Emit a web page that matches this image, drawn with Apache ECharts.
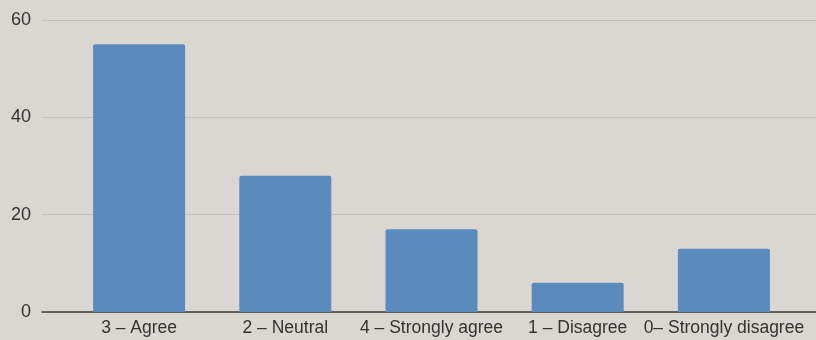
<!DOCTYPE html>
<html><head><meta charset="utf-8">
<script src="https://cdn.jsdelivr.net/npm/echarts@6/dist/echarts.min.js"></script>
<style>html,body{margin:0;padding:0;background:#dad6d1;}#c{width:816px;height:340px;}</style>
</head><body><div id="c"></div>
<script>
const categories = ["3 – Agree", "2 – Neutral", "4 – Strongly agree", "1 – Disagree", "0– Strongly disagree"];
const values = [55, 28, 17, 6, 13];
const yTicks = [0, 20, 40, 60];

const chart = echarts.init(document.getElementById('c'));
chart.setOption({
  backgroundColor: '#dad6d1',
  animation: false,
  grid: [
    {left: 42, right: 0, top: 20, bottom: 28},
    {left: 66, right: 19, top: 20, bottom: 28}
  ],
  xAxis: [
    {gridIndex: 0, type: 'value', min: 0, max: 1, show: true,
     axisLabel: {show: false}, splitLine: {show: false}, axisTick: {show: false},
     axisLine: {show: true, lineStyle: {color: '#3d3d3d', width: 1.5}}},
    {gridIndex: 1, type: 'category', data: categories,
     axisLine: {show: false}, axisTick: {show: false},
     axisLabel: {interval: 0, color: '#333333', fontSize: 17.5, fontFamily: 'Liberation Sans', margin: 7}}
  ],
  yAxis: [
    {gridIndex: 0, type: 'value', min: yTicks[0], max: yTicks[yTicks.length-1], interval: 20,
     axisLine: {show: false}, axisTick: {show: false},
     axisLabel: {color: '#333333', fontSize: 18, fontFamily: 'Liberation Sans', margin: 11},
     splitLine: {lineStyle: {color: '#c5c1bc', width: 1}}},
    {gridIndex: 1, type: 'value', min: 0, max: 60, interval: 20, show: false,
     splitLine: {show: false}}
  ],
  series: [{
    type: 'bar', xAxisIndex: 1, yAxisIndex: 1, data: values,
    barWidth: 92,
    itemStyle: {color: '#5b8bbd', borderRadius: [2, 2, 0, 0]}
  }]
});
</script></body></html>
